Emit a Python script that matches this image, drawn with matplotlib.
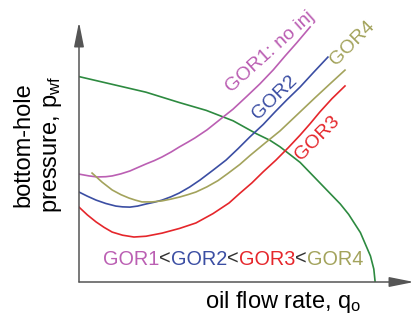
import matplotlib
matplotlib.use("Agg")
import matplotlib.pyplot as plt

plt.rcParams['font.family'] = ['Liberation Sans', 'DejaVu Sans']
plt.rcParams['mathtext.default'] = 'regular'

# values (arbitrary units, axes run 0..100)
q_ipr = [0, 10, 20, 30, 38, 46, 53, 57, 60, 63, 66, 69, 72, 75, 78, 80.5,
         82.5, 84, 85, 86, 87, 88, 88.4]
p_ipr = [79, 76, 73, 69, 66, 62, 57, 54.5, 52, 49, 46, 42, 38, 34, 30, 26,
         22, 19, 16, 13, 10, 5, 0]

q_gor1 = [0, 3, 5.4, 8, 9.9, 12.5, 15.2, 17.5, 20, 22.5, 24.8, 27.5, 29.9,
          32.5, 34.6, 38.2, 42, 46, 50, 54, 58, 61.5, 65, 69]
p_gor1 = [41.5, 40.8, 40.4, 40.5, 40.8, 41.6, 42.7, 44, 45.4, 46.7, 48.1, 50,
          51.9, 53.8, 55.4, 58.5, 62.4, 66.5, 71.3, 76.2, 81.6, 86.9, 92, 98.1]

q_gor2 = [0, 2.5, 5.1, 8, 11, 13, 15.2, 17.5, 20, 22.5, 24.8, 27.5, 29.9, 33,
          36.1, 40, 43.9, 47.5, 51, 55, 58.5, 62, 66, 70, 74.3]
p_gor2 = [34.6, 33, 31.5, 30.2, 29.2, 28.9, 28.8, 29.2, 30, 30.7, 31.5, 32.8,
          34.2, 36.5, 39.2, 43, 46.9, 51.3, 55.8, 60.6, 65.4, 70, 75, 80.6, 86.5]

q_gor3 = [0, 2.5, 5.1, 7.5, 9.9, 13, 16.4, 20, 24.8, 30, 34.9, 40, 44.8, 48,
          51.6, 55, 58.8, 62.5, 66, 69, 71.9, 75.5, 79.4]
p_gor3 = [28.8, 25.8, 23.1, 21, 19.2, 18, 17.3, 17.6, 18.8, 20.6, 22.7, 26.3,
          30.4, 34.1, 38.1, 42.4, 46.9, 51.7, 56.5, 60.9, 65.4, 70.5, 75.4]

q_gor4 = [3.9, 6.9, 9.9, 12.5, 14.9, 16.8, 18.8, 21.8, 24.8, 27.5, 30.1, 32.5,
          34.9, 38.2, 41.5, 44.5, 48, 51, 55.5, 60, 65, 70.4, 75, 79.4]
p_gor4 = [41.9, 38.4, 35.4, 33.6, 32.3, 31.5, 30.8, 30.8, 31.2, 31.9, 32.7,
          33.6, 34.6, 36.6, 39.0, 41.8, 45.2, 48.6, 53.4, 58.1, 64.2, 70.8,
          76.3, 81.5]

labels = ["GOR1: no inj", "GOR2", "GOR3", "GOR4"]
order_text = ["GOR1", "<", "GOR2", "<", "GOR3", "<", "GOR4"]

c_purple = "#bb5fb3"
c_blue = "#3b4ea3"
c_red = "#e5262b"
c_olive = "#a3a35c"
c_green = "#2d8a40"
c_axis = "#555555"

fig = plt.figure(figsize=(4.14, 3.24), dpi=100)
W, H = 414, 324
ax = fig.add_axes([79 / W, (H - 282) / H, (414 - 79) / W, (282 - 22) / H])
ax.set_xlim(0, 100)
ax.set_ylim(0, 100)
ax.axis("off")

lw = 1.2
ax.plot(q_ipr, p_ipr, color=c_green, lw=lw)
ax.plot(q_gor1, p_gor1, color=c_purple, lw=lw)
ax.plot(q_gor2, p_gor2, color=c_blue, lw=lw)
ax.plot(q_gor3, p_gor3, color=c_red, lw=lw)
ax.plot(q_gor4, p_gor4, color=c_olive, lw=lw)

# axes with arrows
arr = dict(arrowstyle="-|>,head_length=1.5,head_width=0.3", color=c_axis,
           lw=1.1, shrinkA=0, shrinkB=0)
ax.annotate("", xy=(1, 0), xytext=(0, 0), xycoords="axes fraction",
            arrowprops=arr, annotation_clip=False)
ax.annotate("", xy=(0, 1), xytext=(0, 0), xycoords="axes fraction",
            arrowprops=arr, annotation_clip=False)

# curve labels
fs = 14
ax.text(57.0, 88.5, labels[0], color=c_purple, fontsize=fs, rotation=42,
        ha="center", va="center", rotation_mode="anchor")
ax.text(58.5, 70.8, labels[1], color=c_blue, fontsize=fs, rotation=44,
        ha="center", va="center", rotation_mode="anchor")
ax.text(71.3, 55.4, labels[2], color=c_red, fontsize=fs, rotation=45,
        ha="center", va="center", rotation_mode="anchor")
ax.text(81.5, 91.9, labels[3], color=c_olive, fontsize=fs, rotation=45,
        ha="center", va="center", rotation_mode="anchor")

# GOR1<GOR2<GOR3<GOR4 in colours
cols = [c_purple, "#333333", c_blue, "#333333", c_red, "#333333", c_olive]
prev = ax.text(7.2, 8.8, order_text[0], color=cols[0], fontsize=14.3,
               ha="left", va="center")
for s, c in zip(order_text[1:], cols[1:]):
    prev = ax.annotate(s, xy=(1, 0.5), xycoords=prev, color=c, fontsize=14.3,
                       ha="left", va="center")

fig.text(38 / W, 1 - 145 / H, "bottom-hole\npressure, p$_{wf}$", rotation=90,
         ha="center", va="center", multialignment="center", fontsize=17,
         linespacing=1.35)
fig.text(283 / W, 1 - 302 / H, "oil flow rate, q$_{o}$", ha="center",
         va="center", fontsize=17)

fig.savefig("out.png", dpi=100)
